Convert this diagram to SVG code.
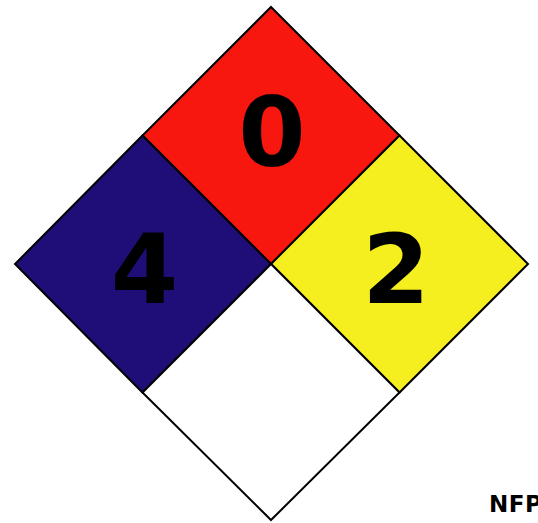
<svg xmlns="http://www.w3.org/2000/svg" width="538" height="523" viewBox="0 0 538 523">
<style>
.q{stroke:#000;stroke-width:2;stroke-linejoin:miter}
.d{font-family:"DejaVu Sans",sans-serif;font-weight:bold;font-size:97px;text-anchor:middle;fill:#000}
.l{font-family:"DejaVu Sans",sans-serif;font-weight:bold;font-size:23px;letter-spacing:0.5px;fill:#000}
</style>
<rect width="538" height="523" fill="#fff"/>
<g id="flammability">
<polygon class="q" fill="#f7170f" points="271,7 399.5,135.5 271,264 142.5,135.5"/>
<text class="d" x="272" y="166">0</text>
</g>
<g id="health">
<polygon class="q" fill="#200e78" points="142.5,135.5 271,264 142.5,392.5 15,264"/>
<text class="d" x="144.5" y="303">4</text>
</g>
<g id="instability">
<polygon class="q" fill="#f5ef1f" points="399.5,135.5 528,264 399.5,392.5 271,264"/>
<text class="d" x="396" y="303">2</text>
</g>
<g id="special">
<polygon class="q" fill="#fff" points="271,264 399.5,392.5 271,520 142.5,392.5"/>
</g>
<text class="l" x="489" y="512">NFPA</text>
</svg>
